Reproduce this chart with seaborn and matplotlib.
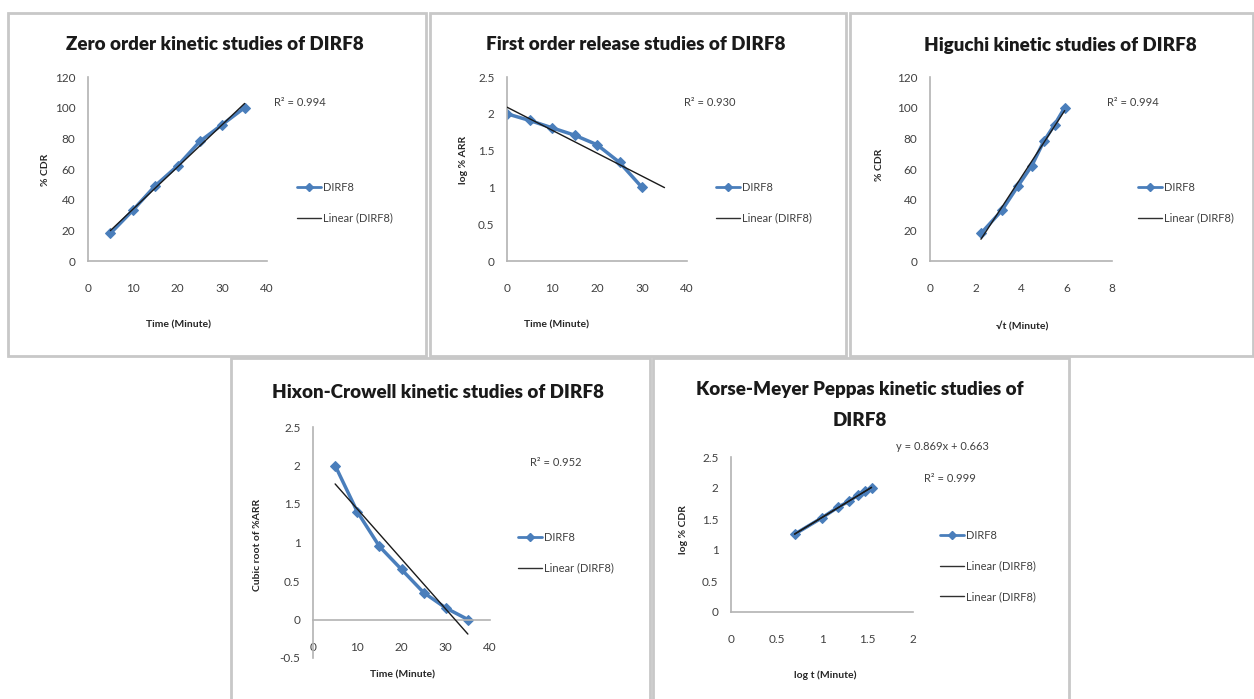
import numpy as np
import matplotlib
matplotlib.use('Agg')
import matplotlib.pyplot as plt
import seaborn as sns
from matplotlib.lines import Line2D
from matplotlib.patches import Rectangle
from matplotlib.ticker import FuncFormatter, MultipleLocator

sns.set_style('white')
plt.rcParams['font.family'] = ['Lato', 'DejaVu Sans']

# ========== data ==========
time_min = [5, 10, 15, 20, 25, 30, 35]
cdr_pct = [18, 33, 49, 62, 78, 89, 100]

time_first = [0, 5, 10, 15, 20, 25, 30]
log_arr = [2.0, 1.91, 1.81, 1.71, 1.58, 1.34, 1.0]

sqrt_t = [2.24, 3.16, 3.87, 4.47, 5.0, 5.48, 5.92]

cube_root_arr = [2.0, 1.4, 0.95, 0.65, 0.35, 0.15, 0.0]

log_t = [0.699, 1.0, 1.176, 1.301, 1.398, 1.477, 1.544]
log_cdr = [1.255, 1.52, 1.69, 1.79, 1.89, 1.95, 2.0]

W, H = 1254, 699
fig = plt.figure(figsize=(W / 100, H / 100), dpi=100)

BLUE = '#4A7EBB'
GRAY = '#b3b3b3'
TXT = '#404040'


def px(x, y):
    return x / W, 1 - y / H


def box(l, t, r, b):
    # panel frame in pixel coords
    fig.patches.append(Rectangle(px(l, b), (r - l) / W, (b - t) / H, transform=fig.transFigure,
                                 fill=False, edgecolor='#c8c8c8', lw=2))


def make_ax(l, t, r, b, xlim, xstep, ylim, ystep, zero_axis=False):
    ax = fig.add_axes([l / W, 1 - b / H, (r - l) / W, (b - t) / H])
    ax.set_xlim(*xlim)
    ax.set_ylim(*ylim)
    ax.xaxis.set_major_locator(MultipleLocator(xstep))
    ax.yaxis.set_major_locator(MultipleLocator(ystep))
    fmt = FuncFormatter(lambda v, p: '{:g}'.format(round(v, 2)))
    ax.xaxis.set_major_formatter(fmt)
    ax.yaxis.set_major_formatter(fmt)
    for s in ['top', 'right']:
        ax.spines[s].set_visible(False)
    for s in ['left', 'bottom']:
        ax.spines[s].set_color(GRAY)
        ax.spines[s].set_linewidth(1.2)
    if zero_axis:
        ax.spines['bottom'].set_position(('data', 0))
    ax.tick_params(axis='x', length=0, pad=16, labelsize=8.5, labelcolor=TXT)
    ax.tick_params(axis='y', length=0, pad=9, labelsize=8.5, labelcolor=TXT)
    ax.patch.set_alpha(0)
    return ax


def draw(ax, x, y, trend_x, n_trend=1):
    k, c = np.polyfit(x, y, 1)
    tx = np.array(trend_x, dtype=float)
    for _ in range(n_trend):
        sns.lineplot(x=tx, y=k * tx + c, ax=ax, color='#1a1a1a', lw=1, zorder=3)
    sns.lineplot(x=x, y=y, ax=ax, color=BLUE, lw=2.5, marker='D', markersize=5.5,
                 markeredgecolor=BLUE, zorder=2)


def legend(ax, x, y, n_linear=1):
    handles = [Line2D([], [], color=BLUE, lw=2, marker='D', markersize=4.5)]
    labels = ['DIRF8']
    for _ in range(n_linear):
        handles.append(Line2D([], [], color='#303030', lw=1))
        labels.append('Linear (DIRF8)')
    fx, fy = px(x, y)
    leg = ax.legend(handles, labels, loc='upper left', bbox_to_anchor=(fx, fy),
                    bbox_transform=fig.transFigure, frameon=False, fontsize=8,
                    handlelength=2.2, handletextpad=0.1, labelspacing=1.75,
                    borderpad=0, borderaxespad=0)
    for t in leg.get_texts():
        t.set_color(TXT)


def ftext(x, y, s, **kw):
    fx, fy = px(x, y)
    fig.text(fx, fy, s, ha='center', va='center', **kw)


TITLE = dict(fontsize=13.5, fontweight='heavy', color='#1a1a1a')
LAB = dict(fontsize=7.5, fontweight='bold', color='#262626')

# ========== frames ==========
box(8, 13, 426, 356)
box(430, 13, 846, 356)
box(850, 13, 1253, 356)
box(231, 358, 650, 700)
box(653, 358, 1069, 700)

# ========== 1. zero order ==========
ax1 = make_ax(88, 77, 267, 261, (0, 40), 10, (0, 120), 20)
draw(ax1, time_min, cdr_pct, [5, 35])
legend(ax1, 297, 182)
ftext(215, 45, 'Zero order kinetic studies of DIRF8', **TITLE)
ftext(45, 170, '% CDR', rotation=90, **LAB)
ftext(178, 325, 'Time (Minute)', **LAB)
ftext(300, 103, 'R² = 0.994', fontsize=8, color=TXT)

# ========== 2. first order ==========
ax2 = make_ax(507, 77, 687, 261, (0, 40), 10, (0, 2.5), 0.5)
draw(ax2, time_first, log_arr, [0, 35])
legend(ax2, 716, 182)
ftext(636, 45, 'First order release studies of DIRF8', **TITLE)
ftext(463, 160, 'log % ARR', rotation=90, **LAB)
ftext(556, 325, 'Time (Minute)', **LAB)
ftext(710, 103, 'R² = 0.930', fontsize=8, color=TXT)

# ========== 3. Higuchi ==========
ax3 = make_ax(930, 77, 1112, 261, (0, 8), 2, (0, 120), 20)
draw(ax3, sqrt_t, cdr_pct, [2.24, 5.92])
legend(ax3, 1138, 182)
ftext(1060, 45, 'Higuchi kinetic studies of DIRF8', **TITLE)
ftext(879, 165, '% CDR', rotation=90, **LAB)
ftext(1022, 326, '√t (Minute)', **LAB)
ftext(1133, 103, 'R² = 0.994', fontsize=8, color=TXT)

# ========== 4. Hixon-Crowell ==========
ax4 = make_ax(313, 427, 490, 658, (0, 40), 10, (-0.5, 2.5), 0.5, zero_axis=True)
draw(ax4, time_min, cube_root_arr, [5, 35])
legend(ax4, 518, 532)
ftext(438, 392, 'Hixon-Crowell kinetic studies of DIRF8', **TITLE)
ftext(258, 545, 'Cubic root of %ARR', rotation=90, **LAB)
ftext(402, 675, 'Time (Minute)', **LAB)
ftext(556, 463, 'R² = 0.952', fontsize=8, color=TXT)

# ========== 5. Korsmeyer-Peppas ==========
ax5 = make_ax(731, 457, 913, 612, (0, 2), 0.5, (0, 2.5), 0.5)
draw(ax5, log_t, log_cdr, [0.699, 1.544], n_trend=2)
legend(ax5, 940, 530, n_linear=2)
ftext(860, 390, 'Korse-Meyer Peppas kinetic studies of', **TITLE)
ftext(860, 421, 'DIRF8', **TITLE)
ftext(684, 530, 'log % CDR', rotation=90, **LAB)
ftext(825, 675, 'log t (Minute)', **LAB)
ftext(942, 447, 'y = 0.869x + 0.663', fontsize=8, color=TXT)
ftext(950, 478, 'R² = 0.999', fontsize=8, color=TXT)

fig.savefig('out.png', dpi=100)
